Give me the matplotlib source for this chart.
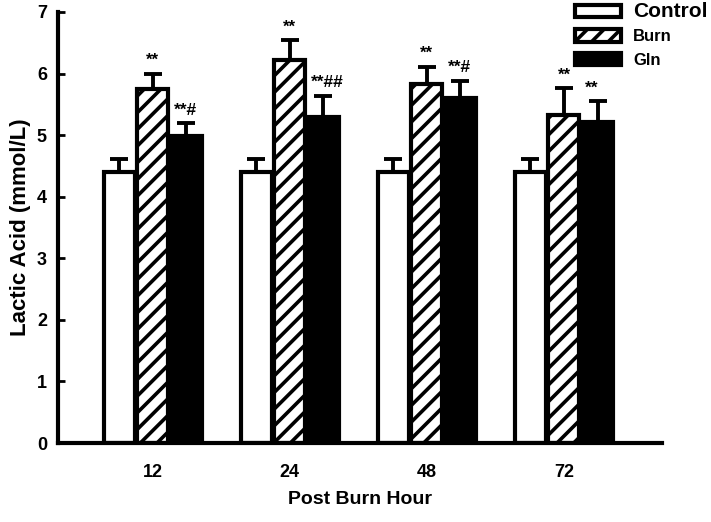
import matplotlib
matplotlib.use("Agg")
import matplotlib.pyplot as plt
from matplotlib.patches import Patch
import numpy as np

plt.rcParams['font.family'] = ['Liberation Sans', 'DejaVu Sans']
plt.rcParams['hatch.linewidth'] = 2.6

hours = ['12', '24', '48', '72']
series = ['Control', 'Burn', 'Gln']
control = [4.40, 4.40, 4.40, 4.40]
control_err = [0.22, 0.22, 0.22, 0.22]
burn = [5.75, 6.22, 5.83, 5.33]
burn_err = [0.25, 0.32, 0.28, 0.43]
gln = [4.98, 5.30, 5.61, 5.22]
gln_err = [0.21, 0.34, 0.27, 0.33]
burn_marks = ['**', '**', '**', '**']
gln_marks = ['**#', '**##', '**#', '**']

fig = plt.figure(figsize=(7.11, 5.22), dpi=100)
ax = fig.add_axes([58/711, 79/522, 604/711, 431/522])

x = np.arange(len(hours))
w = 0.226
off = 0.245
lw = 3.0
ekw = dict(elinewidth=2.8, capthick=2.8, ecolor='black')

vals = [control, burn, gln]
errs = [control_err, burn_err, gln_err]
styles = [dict(facecolor='white', hatch=None),
          dict(facecolor='white', hatch='//'),
          dict(facecolor='black', hatch=None)]
for i, (v, e, st) in enumerate(zip(vals, errs, styles)):
    pos = x + (i - 1) * off
    ax.bar(pos, v, w, facecolor=st['facecolor'], edgecolor='black',
           linewidth=lw, hatch=st['hatch'], zorder=2)
    ax.errorbar(pos, v, yerr=[np.zeros(len(v)), e], fmt='none',
                capsize=6.5, zorder=1, **ekw)

for i in range(len(hours)):
    ax.annotate(burn_marks[i], (x[i], burn[i] + burn_err[i]),
                xytext=(0, 4), textcoords='offset points', ha='center',
                va='bottom', fontsize=12, fontweight='bold')
    ax.annotate(gln_marks[i], (x[i] + off - 0.09, gln[i] + gln_err[i]),
                xytext=(0, 4), textcoords='offset points', ha='left',
                va='bottom', fontsize=12.5, fontweight='bold')

ax.set_xlim(-0.69, 3.715)
ax.set_ylim(0, 7)
ax.set_yticks(range(8))
ax.set_xticks(x)
ax.set_xticklabels(hours)
ax.tick_params(axis='x', length=0, pad=15, labelsize=13)
ax.tick_params(axis='y', direction='in', length=5, width=2, labelsize=13, pad=8)
for lab in ax.get_xticklabels() + ax.get_yticklabels():
    lab.set_fontweight('bold')
for s in ['top', 'right']:
    ax.spines[s].set_visible(False)
for s in ['left', 'bottom']:
    ax.spines[s].set_linewidth(3)
ax.set_ylabel('Lactic Acid (mmol/L)', fontsize=16, fontweight='bold', labelpad=4)
ax.set_xlabel('Post Burn Hour', fontsize=14, fontweight='bold', labelpad=7)

handles = [Patch(facecolor=st['facecolor'], edgecolor='black', linewidth=lw,
                 hatch=st['hatch']) for st in styles]
leg = fig.legend(handles, series, loc='upper left',
                 bbox_to_anchor=(575/711, 1 - 2/522), bbox_transform=fig.transFigure,
                 borderaxespad=0, borderpad=0,
                 frameon=False, handlelength=2.75, handleheight=0.75,
                 labelspacing=0.5, handletextpad=0.75, fontsize=12)
for t in leg.get_texts():
    t.set_fontweight('bold')
leg.get_texts()[0].set_fontsize(15)

fig.savefig('out.png', dpi=100)
